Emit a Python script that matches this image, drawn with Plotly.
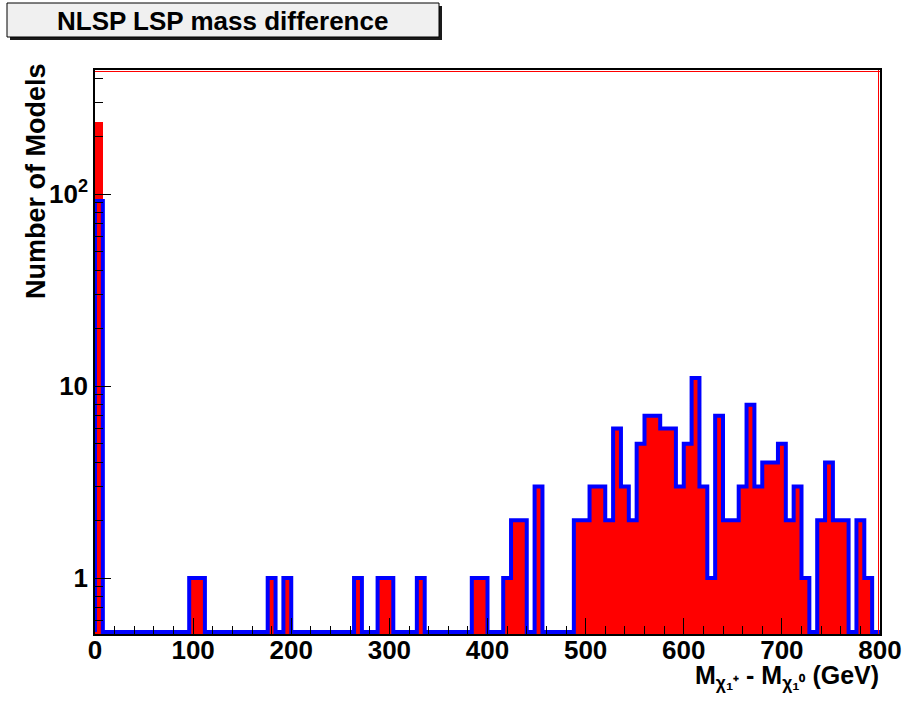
import math
import plotly.graph_objects as go

# ---------------- data ----------------
bin_width = 8
bin_edges = [i * bin_width for i in range(101)]  # 0..800

red_counts = [
    238, 0, 0, 0, 0, 0, 0, 0, 0, 0,
    0, 0, 1, 1, 0, 0, 0, 0, 0, 0,
    0, 0, 1, 0, 1, 0, 0, 0, 0, 0,
    0, 0, 0, 1, 0, 0, 1, 1, 0, 0,
    0, 1, 0, 0, 0, 0, 0, 0, 1, 1,
    0, 0, 1, 2, 2, 0, 3, 0, 0, 0,
    0, 2, 2, 3, 3, 2, 6, 3, 2, 5,
    7, 7, 6, 6, 3, 5, 11, 3, 1, 7,
    2, 2, 3, 8, 3, 4, 4, 5, 2, 3,
    1, 0, 2, 4, 2, 2, 0, 2, 1, 0,
]
blue_counts = [
    92, 0, 0, 0, 0, 0, 0, 0, 0, 0,
    0, 0, 1, 1, 0, 0, 0, 0, 0, 0,
    0, 0, 1, 0, 1, 0, 0, 0, 0, 0,
    0, 0, 0, 1, 0, 0, 1, 1, 0, 0,
    0, 1, 0, 0, 0, 0, 0, 0, 1, 1,
    0, 0, 1, 2, 2, 0, 3, 0, 0, 0,
    0, 2, 2, 3, 3, 2, 6, 3, 2, 5,
    7, 7, 6, 6, 3, 5, 11, 3, 1, 7,
    2, 2, 3, 8, 3, 4, 4, 5, 2, 3,
    1, 0, 2, 4, 2, 2, 0, 2, 1, 0,
]

x_ticks = [0, 100, 200, 300, 400, 500, 600, 700, 800]
y_ticks = [1, 10, 100]
y_ticktext = ["1", "10", "10<sup>2</sup>"]
y_minor = [0.6, 0.7, 0.8, 0.9, 2, 3, 4, 5, 6, 7, 8, 9,
           20, 30, 40, 50, 60, 70, 80, 90, 200, 300, 400]

title_text = "NLSP LSP mass difference"
x_title = "M<sub>χ₁⁺</sub> - M<sub>χ₁⁰</sub> (GeV)"
y_title = "Number of Models"

# ---------------- layout geometry ----------------
W, H = 906, 701
L, R, T, B = 95, 26, 70, 67
PW, PH = W - L - R, H - T - B
Y_LO, Y_HI = 0.511, 442.6
ZERO_LEVEL = 0.523  # empty bins drawn at the frame floor (ROOT log style)


def px(x):
    return (x - L) / PW


def py(y):
    return (H - B - y) / PH


FONT = "Liberation Sans, Arial, Helvetica, sans-serif"

centers = [e + bin_width / 2 for e in bin_edges[:-1]]

fig = go.Figure()

fig.add_trace(go.Bar(
    x=centers, y=red_counts, width=bin_width,
    marker=dict(color="#ff0000", line=dict(width=0)),
    showlegend=False, hoverinfo="x+y",
))

blue_draw = [v if v > 0 else ZERO_LEVEL for v in blue_counts]
step_x = [bin_edges[0]] + bin_edges
step_y = [ZERO_LEVEL] + blue_draw + [ZERO_LEVEL]
fig.add_trace(go.Scatter(
    x=step_x, y=step_y, mode="lines",
    line=dict(color="#0000ff", width=4, shape="hv"),
    showlegend=False, hoverinfo="skip",
))

tickfont = dict(family=FONT, size=26, color="black", weight="bold")

fig.update_layout(
    width=W, height=H,
    margin=dict(l=L, r=R, t=T, b=B, autoexpand=False),
    paper_bgcolor="white", plot_bgcolor="white",
    bargap=0, barmode="overlay",
    xaxis=dict(
        range=[0, 800], tickvals=x_ticks, ticks="inside", ticklen=16,
        tickwidth=1, tickcolor="black", showgrid=False, zeroline=False,
        showline=True, linecolor="black", linewidth=1.5, mirror=True,
        tickfont=tickfont, ticklabelstandoff=-8,
        minor=dict(dtick=20, ticks="inside", ticklen=8, tickcolor="black",
                   tickwidth=1, showgrid=False),
    ),
    yaxis=dict(
        type="log", range=[math.log10(Y_LO), math.log10(Y_HI)],
        tickvals=y_ticks, ticktext=y_ticktext, ticks="inside", ticklen=16,
        tickwidth=1, tickcolor="black", showgrid=False, zeroline=False,
        showline=True, linecolor="black", linewidth=1.5, mirror=True,
        tickfont=tickfont,
        minor=dict(tickvals=y_minor, ticks="inside", ticklen=8,
                   tickcolor="black", tickwidth=1, showgrid=False),
    ),
)

shapes = [
    # red inner frame lines (top, right)
    dict(type="line", xref="paper", yref="paper", x0=0, x1=1,
         y0=1 - 1.5 / PH, y1=1 - 1.5 / PH, line=dict(color="#ff0000", width=1)),
    dict(type="line", xref="paper", yref="paper", x0=1 - 1.5 / PW, x1=1 - 1.5 / PW,
         y0=0, y1=1, line=dict(color="#ff0000", width=1)),
    # title box shadow
    dict(type="rect", xref="paper", yref="paper", x0=px(10), x1=px(442),
         y0=py(40), y1=py(6), fillcolor="#1a1a1a", line=dict(width=0), layer="above"),
    # title box
    dict(type="rect", xref="paper", yref="paper", x0=px(7), x1=px(439),
         y0=py(37), y1=py(3), fillcolor="#f0f0f0",
         line=dict(color="black", width=1), layer="above"),
]
fig.update_layout(shapes=shapes)

annotations = [
    dict(text=title_text, xref="paper", yref="paper", x=px(222), y=py(21.5),
         xanchor="center", yanchor="middle", showarrow=False,
         font=dict(family=FONT, size=26, color="black", weight="bold")),
    dict(text=x_title, xref="paper", yref="paper", x=px(881), y=py(677),
         xanchor="right", yanchor="middle", showarrow=False,
         font=dict(family=FONT, size=25, color="black", weight="bold")),
    dict(text=y_title, xref="paper", yref="paper", x=px(36), y=py(181),
         xanchor="center", yanchor="middle", textangle=-90, showarrow=False,
         font=dict(family=FONT, size=27, color="black", weight="bold")),
]
fig.update_layout(annotations=annotations)

fig.write_html("out.html", config={"displayModeBar": False},
               post_script="document.body.style.margin='0';document.body.style.overflow='hidden';")
